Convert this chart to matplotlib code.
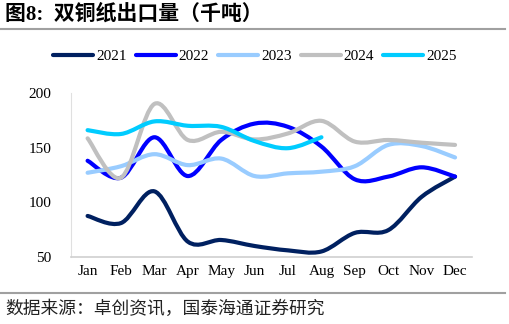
import matplotlib.pyplot as plt
import numpy as np
from matplotlib.path import Path
from matplotlib.patches import PathPatch
from matplotlib.lines import Line2D

plt.rcParams['font.family'] = ['Liberation Serif', 'Noto Sans CJK SC']

months = ['Jan', 'Feb', 'Mar', 'Apr', 'May', 'Jun', 'Jul', 'Aug', 'Sep', 'Oct', 'Nov', 'Dec']
y2021 = [87.5, 81, 110, 64, 65.5, 60, 56, 55, 72, 74.5, 105, 123.5]
y2022 = [138, 122.5, 159.5, 124, 157, 172, 169, 151, 121, 123.5, 132, 123.5]
y2023 = [127, 133, 144, 134, 140, 124, 126.5, 128, 133, 152.5, 151.5, 141]
y2024 = [158.5, 122.5, 190, 157, 164.5, 157.5, 163, 174.5, 155.5, 157, 154.5, 152.5]
y2025 = [166, 162.5, 174, 170, 169, 156, 149.5, 159.5]

series = [('2021', y2021, '#002060'), ('2022', y2022, '#0000FF'),
          ('2023', y2023, '#99CCFF'), ('2024', y2024, '#C0C0C0'),
          ('2025', y2025, '#00CCFF')]


def smooth_path(ys):
    # Excel-style smoothed line: cubic Bezier through the points
    pts = np.column_stack([np.arange(len(ys)), ys]).astype(float)
    verts = [pts[0]]
    codes = [Path.MOVETO]
    n = len(pts)
    for i in range(n - 1):
        p0 = pts[max(i - 1, 0)]
        p1 = pts[i]
        p2 = pts[i + 1]
        p3 = pts[min(i + 2, n - 1)]
        c1 = p1 + (p2 - p0) / 6
        c2 = p2 - (p3 - p1) / 6
        verts += [c1, c2, p2]
        codes += [Path.CURVE4] * 3
    return Path(verts, codes)


fig = plt.figure(figsize=(5.1, 3.24), dpi=100)
ax = fig.add_axes([0.139, 0.207, 0.786, 0.506])

handles = []
for name, ys, color in series:
    ax.add_patch(PathPatch(smooth_path(ys), facecolor='none', edgecolor=color,
                           lw=3, capstyle='round', joinstyle='round'))
    handles.append(Line2D([], [], color=color, lw=3, solid_capstyle='round'))

ax.set_xlim(-0.5, 11.5)
ax.set_ylim(50, 200)
ax.set_xticks(range(12))
ax.set_xticklabels(months)
ax.set_yticks([50, 100, 150, 200])
ax.tick_params(length=0, labelsize=11, pad=6)
ax.tick_params(axis='y', pad=14)
for s in ['top', 'right']:
    ax.spines[s].set_visible(False)
ax.spines['left'].set_color('#E0E0E0')
ax.spines['bottom'].set_color('#D0D0D0')
ax.spines['bottom'].set_linewidth(1.2)

fig.legend(handles, [s[0] for s in series], loc='center', bbox_to_anchor=(0.5, 0.827),
           ncol=5, frameon=False, fontsize=11, handlelength=2.6, handletextpad=0.2,
           columnspacing=0.6)

fig.text(0.01, 0.955, '图8:  双铜纸出口量（千吨）', fontsize=15, fontweight='bold',
         family=['Liberation Serif', 'Noto Sans CJK SC'], va='center')
fig.text(0.01, 0.045, '数据来源：卓创资讯，国泰海通证券研究', fontsize=12.8,
         family=['Noto Sans CJK SC'], va='center', color='#222222')

fig.add_artist(Line2D([0.0, 0.99], [0.91, 0.91], color='#A0A0A0', lw=1.5,
                      transform=fig.transFigure))
fig.add_artist(Line2D([0.0, 0.99], [0.096, 0.096], color='#A0A0A0', lw=1.5,
                      transform=fig.transFigure))

fig.savefig('out.png', dpi=100)
